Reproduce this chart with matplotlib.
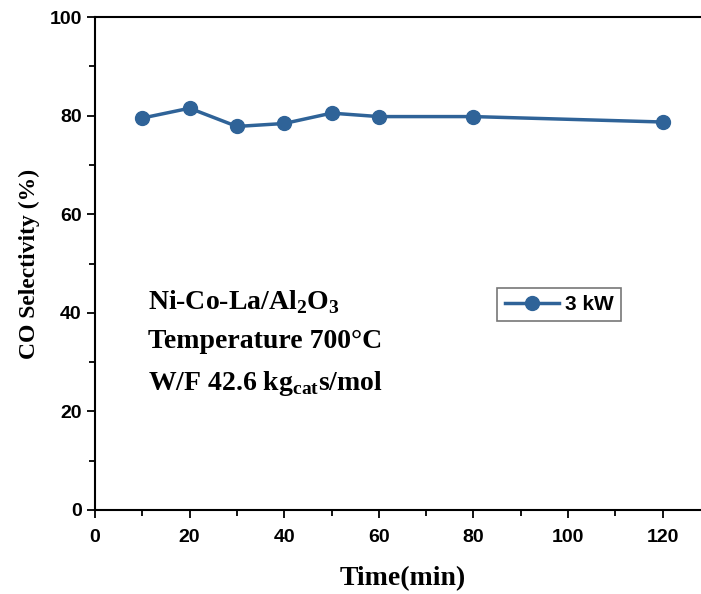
import numpy as np
from matplotlib import pyplot as plt
from matplotlib.ticker import MultipleLocator

# CO selectivity over time on stream
time_min = [10, 20, 30, 40, 50, 60, 80, 120]
co_sel = [79.5, 81.5, 77.8, 78.4, 80.5, 79.8, 79.8, 78.7]
series_label = '3 kW'

color = '#2f6398'
serif = 'Liberation Serif'
sans = 'Liberation Sans'

plt.rcParams['mathtext.fontset'] = 'custom'
plt.rcParams['mathtext.bf'] = 'Liberation Serif:bold'
plt.rcParams['mathtext.rm'] = 'Liberation Serif'

fig = plt.figure(figsize=(7.01, 5.94), dpi=100)
ax = fig.add_axes([95 / 701, 1 - 510 / 594, 615 / 701, (510 - 17) / 594])

ax.plot(time_min, co_sel, '-o', color=color, lw=2.5, ms=10, label=series_label)

ax.set_xlim(0, 130)
ax.set_ylim(0, 100)
ax.xaxis.set_major_locator(MultipleLocator(20))
ax.xaxis.set_minor_locator(MultipleLocator(10))
ax.yaxis.set_major_locator(MultipleLocator(20))
ax.yaxis.set_minor_locator(MultipleLocator(10))
ax.tick_params(which='both', direction='out', width=1.3)
ax.tick_params(which='major', length=6, labelsize=14)
ax.tick_params(axis='x', pad=8)
ax.tick_params(which='minor', length=4)
for lab in ax.get_xticklabels() + ax.get_yticklabels():
    lab.set_fontfamily(sans)
    lab.set_fontweight('bold')
for s in ['left', 'top', 'bottom']:
    ax.spines[s].set_linewidth(1.5)
ax.spines['right'].set_visible(False)

ax.set_xlabel('Time(min)', fontfamily=serif, fontweight='bold', fontsize=20, labelpad=14)
ax.set_ylabel('CO Selectivity (%)', fontfamily=serif, fontweight='bold', fontsize=17, labelpad=7)

txt = ('Ni-Co-La/Al$_\\mathbf{2}$O$_\\mathbf{3}$\n'
       'Temperature 700\u00b0C\n'
       'W/F 42.6 kg$_\\mathbf{cat}$s/mol')
ax.text(11.2, 45, txt, fontfamily=serif, fontweight='bold', fontsize=20,
        va='top', ha='left', linespacing=1.7)

leg = ax.legend(loc='center left', bbox_to_anchor=(0.654, 0.417), frameon=True,
                fancybox=False, edgecolor='#555555', handlelength=2.6,
                prop={'family': sans, 'weight': 'bold', 'size': 15},
                borderpad=0.35, handletextpad=0.3, borderaxespad=0)
leg.get_frame().set_linewidth(1.2)

plt.savefig('out.png', dpi=100)
